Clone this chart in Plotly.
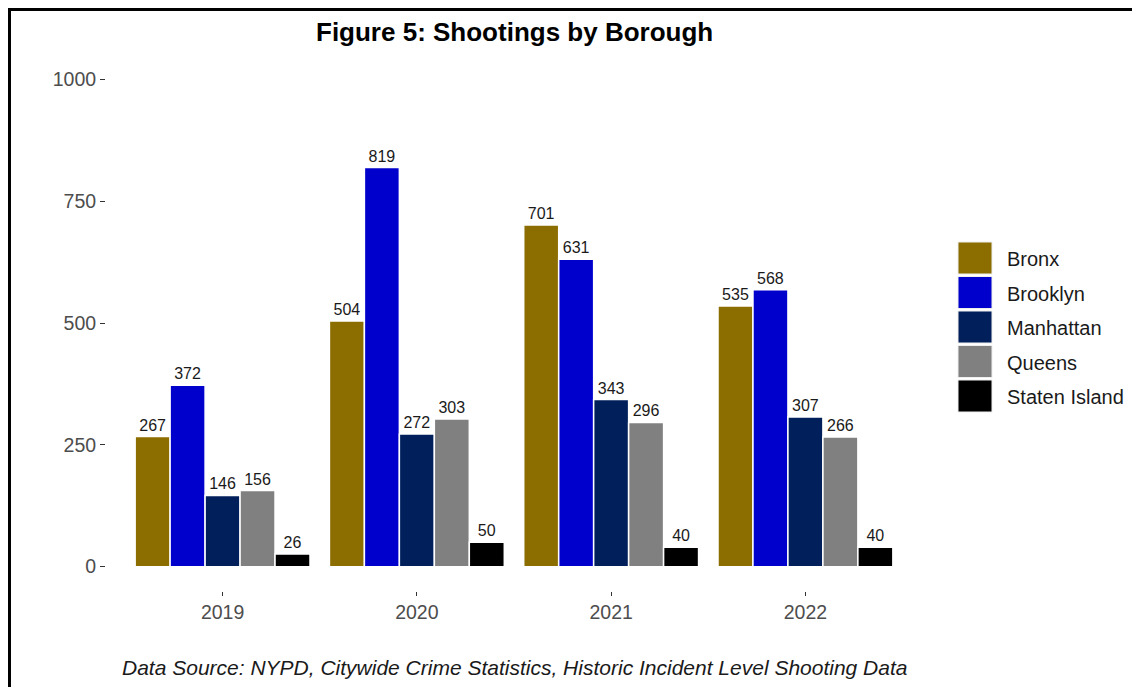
import plotly.graph_objects as go

years = ["2019", "2020", "2021", "2022"]
boroughs = ["Bronx", "Brooklyn", "Manhattan", "Queens", "Staten Island"]
colors = ["#8C6D00", "#0000CD", "#001F5B", "#808080", "#000000"]
bronx = [267, 504, 701, 535]
brooklyn = [372, 819, 631, 568]
manhattan = [146, 272, 343, 307]
queens = [156, 303, 296, 266]
staten = [26, 50, 40, 40]
series = [bronx, brooklyn, manhattan, queens, staten]
y_ticks = [0, 250, 500, 750, 1000]

title = "Figure 5: Shootings by Borough"
caption = "Data Source: NYPD, Citywide Crime Statistics, Historic Incident Level Shooting Data"

W, H = 1132, 687
L, R, T, B = 106, 210, 55, 96
pw, ph = W - L - R, H - T - B

def px(x):
    return (x - L) / pw

def py(y):
    return (H - B - y) / ph

FONT = "Liberation Sans, Arial"

fig = go.Figure()
for name, col, vals in zip(boroughs, colors, series):
    fig.add_trace(go.Bar(
        x=years, y=vals, name=name,
        marker=dict(color=col, line=dict(color="white", width=1.5)),
        text=vals, textposition="outside", cliponaxis=False,
        textfont=dict(size=16, color="#1a1a1a", family=FONT),
        showlegend=False,
    ))

shapes = []
annotations = []
# custom legend
for i, (name, col) in enumerate(zip(boroughs, colors)):
    top = 242 + i * 34.5
    shapes.append(dict(type="rect", xref="paper", yref="paper",
                       x0=px(958), x1=px(992), y0=py(top + 32), y1=py(top),
                       fillcolor=col, line=dict(color="#eeeeee", width=1)))
    annotations.append(dict(xref="paper", yref="paper", x=px(1005), y=py(top + 17),
                            text=name, showarrow=False, xanchor="left", yanchor="middle",
                            font=dict(size=20, color="#1a1a1a", family=FONT)))
# frame
shapes.append(dict(type="line", xref="paper", yref="paper", x0=px(9.5), x1=px(9.5),
                   y0=py(8), y1=py(H + 5), line=dict(color="black", width=3)))
shapes.append(dict(type="line", xref="paper", yref="paper", x0=px(8), x1=px(W + 5),
                   y0=py(9.5), y1=py(9.5), line=dict(color="black", width=3)))

annotations.append(dict(xref="paper", yref="paper", x=px(514), y=py(32), text="<b>" + title + "</b>",
                        showarrow=False, xanchor="center", yanchor="middle",
                        font=dict(size=26, color="black", family=FONT)))
annotations.append(dict(xref="paper", yref="paper", x=px(514), y=py(667), text="<i>" + caption + "</i>",
                        showarrow=False, xanchor="center", yanchor="middle",
                        font=dict(size=21, color="#1a1a1a", family=FONT)))

fig.update_layout(
    width=W, height=H,
    margin=dict(l=L, r=R, t=T, b=B),
    paper_bgcolor="white", plot_bgcolor="white",
    barmode="group", bargap=0.1, bargroupgap=0,
    shapes=shapes, annotations=annotations,
    font=dict(family=FONT),
)
fig.update_xaxes(type="category", range=[-0.6, 3.6], showgrid=False, showline=False,
                 zeroline=False, ticks="outside", ticklen=4, tickcolor="#333333",
                 tickfont=dict(size=19.5, color="#4d4d4d"))
fig.update_yaxes(range=[-50, 1050], tickvals=y_ticks, ticktext=[str(v) for v in y_ticks],
                 showgrid=False, showline=False, zeroline=False, ticks="outside",
                 ticklen=5, tickcolor="#333333", tickfont=dict(size=19.5, color="#4d4d4d"))

fig.write_html("out.html", config={"displayModeBar": False},
               post_script="document.body.style.margin='0';")
